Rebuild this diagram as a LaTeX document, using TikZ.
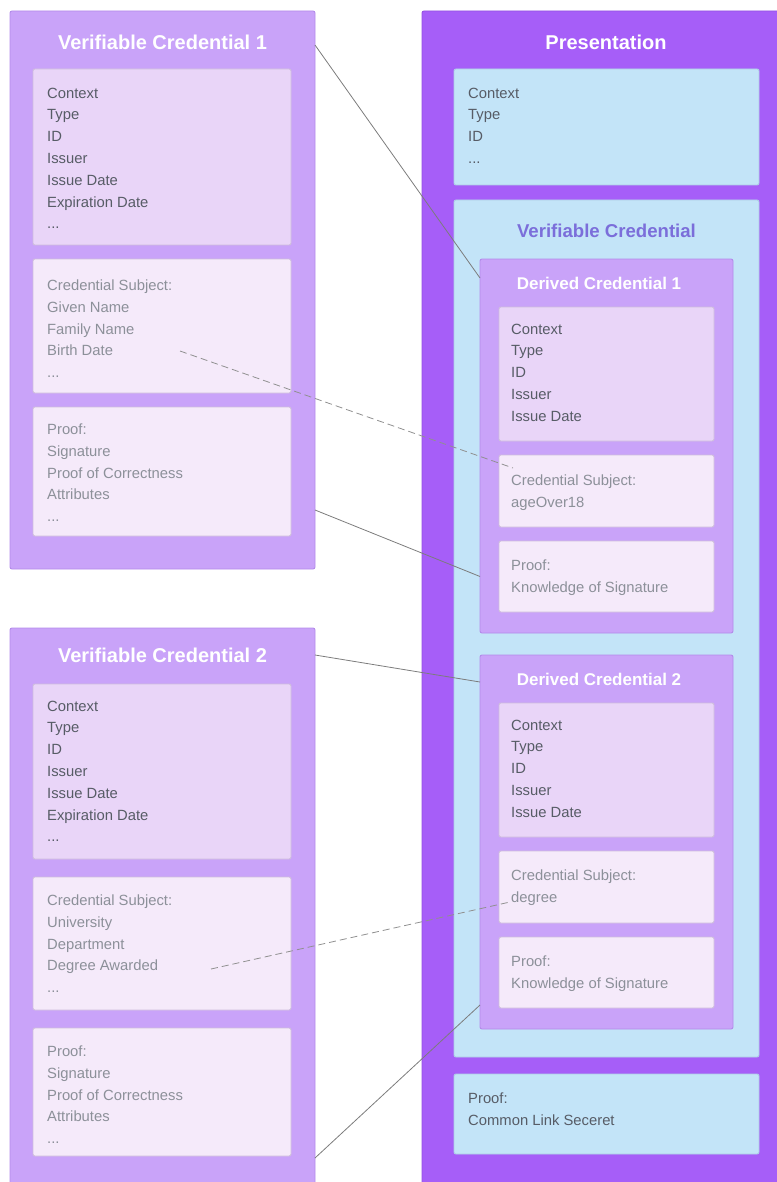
\documentclass[tikz,border=0pt]{standalone}
\usepackage{fontspec}
\setmainfont{Liberation Sans}
\usetikzlibrary{calc}

\definecolor{vcfill}{HTML}{C9A3F9}
\definecolor{vcdraw}{HTML}{B38BEA}
\definecolor{headfill}{HTML}{E9D5F8}
\definecolor{lightfill}{HTML}{F5EAFA}
\definecolor{boxdraw}{HTML}{CEBEDC}
\definecolor{presfill}{HTML}{A65EF8}
\definecolor{presdraw}{HTML}{9450E2}
\definecolor{bluefill}{HTML}{C3E4F8}
\definecolor{bluedraw}{HTML}{ADCDE6}
\definecolor{darktext}{HTML}{575C66}
\definecolor{greytext}{HTML}{8C9099}
\definecolor{vctitle}{HTML}{7B6EDA}
\definecolor{linkline}{HTML}{7C7C7C}

% panel{name}{style}{x1}{y1}{x2}{y2}: a box between two corners
\newcommand\panel[6]{%
  \node[#2, anchor=north west, minimum width={#5pt-#3pt}, minimum height={#6pt-#4pt}]
    (#1) at (#3,#4) {};}

\tikzset{
  x=1pt, y=-1pt,
  box/.style={rectangle, rounded corners=2pt, inner sep=0pt, outer sep=0pt, line width=0.9pt},
  vcbox/.style={box, fill=vcfill, draw=vcdraw},
  headbox/.style={box, fill=headfill, draw=boxdraw},
  lightbox/.style={box, fill=lightfill, draw=boxdraw},
  presbox/.style={box, fill=presfill, draw=presdraw},
  bluebox/.style={box, fill=bluefill, draw=bluedraw},
  title/.style={font=\fontsize{20}{24}\selectfont\bfseries, text=white, inner sep=0pt},
  subtitle/.style={font=\fontsize{17}{20}\selectfont\bfseries, text=white, inner sep=0pt},
  vctitlestyle/.style={font=\fontsize{18.6}{22}\selectfont\bfseries, text=vctitle, inner sep=0pt},
  dark/.style={font=\fontsize{14.8}{21.8}\selectfont, text=darktext, align=left, anchor=north west, inner sep=0pt},
  grey/.style={dark, text=greytext},
  link/.style={draw=linkline, line width=0.8pt},
  dashlink/.style={draw=linkline!85, line width=0.8pt, dash pattern=on 7pt off 4pt},
}

\begin{document}
\begin{tikzpicture}
\useasboundingbox (0,0) rectangle (776,1182);

% ---- Verifiable Credential 1 ----
\panel{vc1}{vcbox}{10}{11}{315}{569}
\node[title] (vc1t) at (162.5,42) {Verifiable Credential 1};
\panel{vc1head}{headbox}{33}{69}{291}{245}
\panel{vc1subj}{lightbox}{33}{259}{291}{393}
\panel{vc1proof}{lightbox}{33}{407}{291}{536}
\node[dark] at (47,87.5) {Context\\Type\\ID\\Issuer\\Issue Date\\Expiration Date\\...};
\node[grey] at (47,279.5) {Credential Subject:\\Given Name\\Family Name\\Birth Date\\...};
\node[grey] at (47,423.5) {Proof:\\Signature\\Proof of Correctness\\Attributes\\...};

% ---- Verifiable Credential 2 ----
\panel{vc2}{vcbox}{10}{628}{315}{1200}
\node[title] (vc2t) at (162.5,655) {Verifiable Credential 2};
\panel{vc2head}{headbox}{33}{684}{291}{859}
\panel{vc2subj}{lightbox}{33}{877}{291}{1010}
\panel{vc2proof}{lightbox}{33}{1028}{291}{1156}
\node[dark] at (47,700.5) {Context\\Type\\ID\\Issuer\\Issue Date\\Expiration Date\\...};
\node[grey] at (47,894.5) {Credential Subject:\\University\\Department\\Degree Awarded\\...};
\node[grey] at (47,1045.5) {Proof:\\Signature\\Proof of Correctness\\Attributes\\...};

% ---- Presentation ----
\panel{pres}{presbox}{422}{11}{792}{1200}
\node[title] (prest) at (606,42) {Presentation};
\panel{preshead}{bluebox}{454}{69}{759}{185}
\node[dark] at (468,87.5) {Context\\Type\\ID\\...};

\panel{vcin}{bluebox}{454}{200}{759}{1057}
\node[vctitlestyle] (vcint) at (606.5,231) {Verifiable Credential};

% Derived Credential 1
\panel{dc1}{vcbox}{480}{259}{733}{633}
\node[subtitle] (dc1t) at (599,283) {Derived Credential 1};
\panel{dc1head}{headbox}{499}{307}{714}{441}
\panel{dc1subj}{lightbox}{499}{455}{714}{527}
\panel{dc1proof}{lightbox}{499}{541}{714}{612}
\node[dark] at (511,323.5) {Context\\Type\\ID\\Issuer\\Issue Date};
\node[grey] (dc1subjtext) at (511,474.5) {Credential Subject:\\ageOver18};
\node[grey] at (511,559.5) {Proof:\\Knowledge of Signature};

% Derived Credential 2
\panel{dc2}{vcbox}{480}{655}{733}{1029}
\node[subtitle] (dc2t) at (599,679) {Derived Credential 2};
\panel{dc2head}{headbox}{499}{703}{714}{837}
\panel{dc2subj}{lightbox}{499}{851}{714}{923}
\panel{dc2proof}{lightbox}{499}{937}{714}{1008}
\node[dark] at (511,719.5) {Context\\Type\\ID\\Issuer\\Issue Date};
\node[grey] (dc2subjtext) at (511,869.5) {Credential Subject:\\degree};
\node[grey] at (511,955.5) {Proof:\\Knowledge of Signature};

% Presentation proof
\panel{presproof}{bluebox}{454}{1074}{759}{1154}
\node[dark] at (468,1092.5) {Proof:\\Common Link Seceret};

% ---- links ----
\coordinate (birth) at (180,351);
\coordinate (age) at (513,468);
\coordinate (degaw) at (211,969);
\coordinate (deg) at (510,902);

\draw[link] ([yshift=-3pt]vc1t -| vc1.east) -- ([yshift=5pt]dc1t -| dc1.west);
\draw[link] ($(vc1proof.south -| vc1.east)+(0,-26)$) -- (dc1proof.west -| dc1.west);
\draw[link] (vc2t -| vc2.east) -- ([yshift=-3pt]dc2t -| dc2.west);
\draw[link] ($(vc2proof.south -| vc2.east)+(0,2)$) -- ($(dc2proof.south -| dc2.west)+(0,-3)$);
\draw[dashlink] (birth) -- (age);
\draw[dashlink] (degaw) -- (deg);
\end{tikzpicture}
\end{document}
